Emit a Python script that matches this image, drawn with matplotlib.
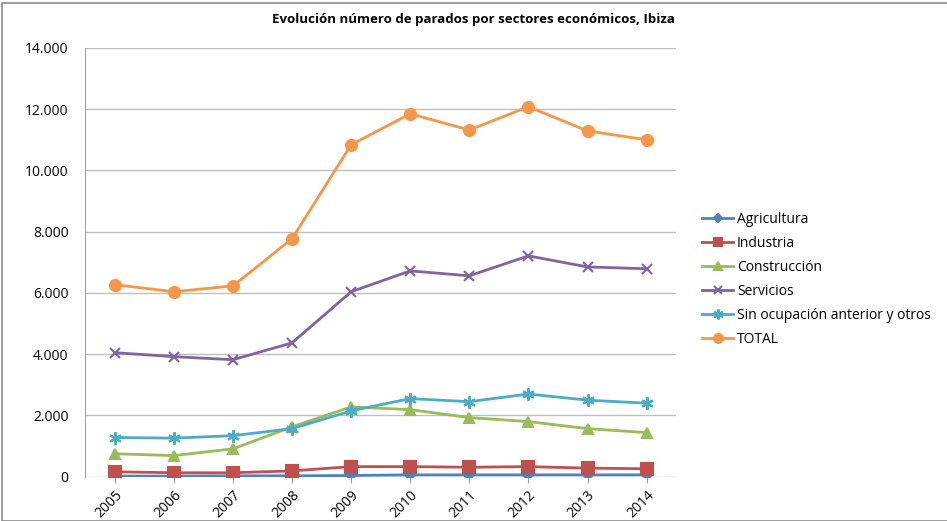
import matplotlib
matplotlib.use("Agg")
import matplotlib.pyplot as plt
from matplotlib.patches import Rectangle
from matplotlib.ticker import FuncFormatter

plt.rcParams['font.family'] = ['Open Sans', 'DejaVu Sans']

years = ['2005', '2006', '2007', '2008', '2009', '2010', '2011', '2012', '2013', '2014']
agricultura = [20, 20, 30, 30, 40, 60, 60, 60, 60, 60]
industria = [160, 130, 130, 190, 330, 330, 310, 330, 280, 260]
construccion = [750, 690, 910, 1630, 2280, 2190, 1930, 1800, 1570, 1440]
servicios = [4050, 3920, 3820, 4370, 6040, 6720, 6560, 7210, 6850, 6790]
sin_ocupacion = [1280, 1260, 1340, 1570, 2150, 2550, 2450, 2700, 2500, 2400]
total = [6270, 6040, 6230, 7770, 10840, 11850, 11320, 12080, 11290, 11000]

series = [
    ('Agricultura', agricultura, '#4F81BD', 'D', 5),
    ('Industria', industria, '#C0504D', 's', 8),
    ('Construcción', construccion, '#9BBB59', '^', 7),
    ('Servicios', servicios, '#8064A2', 'x', 7),
    ('Sin ocupación anterior y otros', sin_ocupacion, '#4BACC6', (6, 2, 0), 9),
    ('TOTAL', total, '#F79646', 'o', 8),
]

fig = plt.figure(figsize=(9.47, 5.21), dpi=100)
ax = fig.add_axes([0.09, 0.085, 0.624, 0.823])

x = range(len(years))
for name, vals, col, mk, ms in series:
    ax.plot(x, vals, color=col, lw=2, marker=mk, ms=ms, mew=1.5, label=name)

ax.set_xlim(-0.5, len(years) - 0.5)
ax.set_ylim(0, 14000)
ax.set_yticks(range(0, 14001, 2000))
ax.yaxis.set_major_formatter(FuncFormatter(lambda v, p: f"{int(v):,}".replace(',', '.')))
ax.set_xticks(list(x))
ax.set_xticklabels(years, rotation=45, ha='right', va='top', rotation_mode='anchor')
ax.grid(axis='y', color='#BFBFBF', lw=1)
ax.set_axisbelow(True)
for s in ['top', 'right', 'bottom']:
    ax.spines[s].set_visible(False)
ax.spines['left'].set_color('#A0A0A0')
ax.tick_params(axis='y', length=0, labelsize=10, pad=12)
ax.tick_params(axis='x', length=4, color='#A0A0A0', labelsize=10, pad=4)

fig.suptitle('Evolución número de parados por sectores económicos, Ibiza',
             fontsize=9.5, fontweight='bold', x=0.5, y=0.975)

leg = ax.legend(loc='upper left', bbox_to_anchor=(1.023, 0.647), frameon=False,
                fontsize=10, handlelength=2.2, labelspacing=0.65, handletextpad=0.3,
                markerscale=0.8)

fig.patches.append(Rectangle((0.002, 0.0), 1.2, 0.995, transform=fig.transFigure,
                             fill=False, edgecolor='#8C8C8C', lw=1.2))

fig.savefig('out.png', dpi=100)
